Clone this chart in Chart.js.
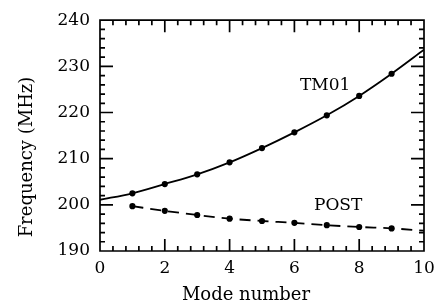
<!DOCTYPE html>
<html><head><meta charset="utf-8">
<script src="https://cdn.jsdelivr.net/npm/chart.js@4"></script>
<style>html,body{margin:0;padding:0;background:#fff}#wrap{width:443px;height:305px}</style>
</head><body><div id="wrap"><canvas id="c" width="443" height="305"></canvas></div>
<script>
const modes = [0,1,2,3,4,5,6,7,8,9,10];
const tm01 = [201.1,202.5,204.5,206.6,209.2,212.3,215.7,219.4,223.6,228.4,233.6];
const post = [null,199.7,198.7,197.8,197.0,196.5,196.1,195.6,195.2,194.9,194.4];
const xTicks = [0,2,4,6,8,10];
const yTicks = [190,200,210,220,230,240];
const xTitle = 'Mode number';
const yTitle = 'Frequency (MHz)';
const labels = [{text:'TM01', x:6.95, y:225.8},{text:'POST', x:7.35, y:199.8}];

const FONT = '"DejaVu Serif", serif';

const frameTicks = {
  id:'frameTicks',
  afterDraw(chart){
    const ctx = chart.ctx;
    const a = chart.chartArea;
    const x = chart.scales.x, y = chart.scales.y;
    ctx.save();
    ctx.strokeStyle='#000';
    ctx.lineWidth=1.7;
    ctx.beginPath();
    ctx.moveTo(a.left,a.top); ctx.lineTo(a.right,a.top); ctx.lineTo(a.right,a.bottom);
    ctx.lineTo(a.left,a.bottom); ctx.closePath();
    for(let i=0;i<=25;i++){
      const v=i*0.4;
      const px=x.getPixelForValue(v);
      const L = (i%5===0)?12:5;
      ctx.moveTo(px,a.bottom); ctx.lineTo(px,a.bottom-L);
      ctx.moveTo(px,a.top); ctx.lineTo(px,a.top+L);
    }
    for(let i=0;i<=25;i++){
      const v=190+i*2;
      const py=y.getPixelForValue(v);
      const L = (i%5===0)?13:5;
      ctx.moveTo(a.left,py); ctx.lineTo(a.left+L,py);
      ctx.moveTo(a.right,py); ctx.lineTo(a.right-L,py);
    }
    ctx.stroke();
    ctx.fillStyle='#000';
    ctx.font='17px '+FONT;
    ctx.textAlign='center'; ctx.textBaseline='middle';
    labels.forEach(l=>ctx.fillText(l.text,x.getPixelForValue(l.x),y.getPixelForValue(l.y)));
    ctx.font='18px '+FONT;
    ctx.fillText(xTitle,246,295);
    ctx.translate(27,157); ctx.rotate(-Math.PI/2);
    ctx.fillText(yTitle,0,0);
    ctx.restore();
  }
};

new Chart(document.getElementById('c'),{
  type:'line',
  data:{datasets:[
    {label:'TM01',data:modes.map((m,i)=>({x:m,y:tm01[i]})),borderColor:'#000',backgroundColor:'#000',
     borderWidth:1.8,pointRadius:modes.map(m=>(m===0||m===10)?0:2.2),cubicInterpolationMode:'monotone'},
    {label:'POST',data:modes.map((m,i)=>({x:m,y:post[i]})).filter(p=>p.y!==null),borderColor:'#000',backgroundColor:'#000',
     borderWidth:1.8,borderDash:[11,7],pointRadius:modes.filter((m,i)=>post[i]!==null).map(m=>m===10?0:2.2),cubicInterpolationMode:'monotone'}
  ]},
  options:{
    responsive:false,animation:false,
    layout:{padding:{left:0,right:19,top:15,bottom:0}},
    plugins:{legend:{display:false},tooltip:{enabled:false}},
    scales:{
      x:{type:'linear',min:0,max:10,
        afterBuildTicks:s=>{s.ticks=xTicks.map(v=>({value:v}));},
        afterFit:s=>{s.height=54;},
        grid:{display:false,drawTicks:false},border:{display:false},
        ticks:{color:'#000',font:{family:FONT,size:17},padding:7,maxRotation:0}},
      y:{type:'linear',min:190,max:240,
        afterBuildTicks:s=>{s.ticks=yTicks.map(v=>({value:v}));},
        afterFit:s=>{s.width=100;},
        grid:{display:false,drawTicks:false},border:{display:false},
        ticks:{color:'#000',font:{family:FONT,size:17},padding:10}}
    }
  },
  plugins:[frameTicks]
});
</script></body></html>
